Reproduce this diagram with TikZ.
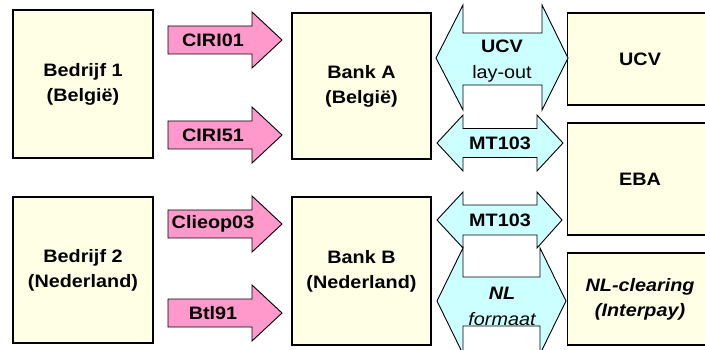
\documentclass[tikz,border=0pt]{standalone}
\usepackage{fontspec}
\setmainfont{Liberation Sans}[FakeStretch=1.1]
\usetikzlibrary{positioning}

\definecolor{boxfill}{RGB}{255,255,230}
\definecolor{pinkarrow}{RGB}{255,153,204}
\definecolor{bluearrow}{RGB}{204,255,255}

\tikzset{
  box/.style={draw=black, line width=1.2pt, fill=boxfill, align=center,
    font=\fontsize{18}{25}\selectfont\bfseries, inner sep=0pt},
  pinkshape/.style={draw=black, line width=0.9pt, fill=pinkarrow},
  blueshape/.style={draw=black, line width=0.9pt, fill=bluearrow},
  msglabel/.style={font=\fontsize{18}{26}\selectfont\bfseries, inner sep=0pt, align=center}
}

\begin{document}
\begin{tikzpicture}[x=1pt, y=-1pt]
  \useasboundingbox (0,0) rectangle (705,350);
  \clip (0,0) rectangle (705,350);

  % Companies
  \node[box, minimum width=140pt, minimum height=148pt] (bedrijf1) at (83,84) {Bedrijf 1\\(België)};
  \node[box, minimum width=140pt, minimum height=146pt] (bedrijf2) at (83,270) {Bedrijf 2\\(Nederland)};

  % Banks
  \node[box, minimum width=139pt, minimum height=146pt] (bankA) at (361.5,86) {Bank A\\(België)};
  \node[box, minimum width=139pt, minimum height=148pt] (bankB) at (361.5,271) {Bank B\\(Nederland)};

  % Clearing
  \node[box, minimum width=145pt, minimum height=92pt, anchor=west] (ucv) at (567,59) {UCV};
  \node[box, minimum width=145pt, minimum height=112pt, anchor=west] (eba) at (567,179) {EBA};
  \node[box, minimum width=145pt, minimum height=92pt, anchor=west] (nlclearing) at (567,299)
    {\itshape NL-clearing\\\itshape (Interpay)};

  % Formats company -> bank
  \foreach \c/\lbl/\nm in {40/CIRI01/ciri01, 135/CIRI51/ciri51, 224/Clieop03/clieop, 313/Btl91/btl} {
    \draw[pinkshape] (168,\c-14) -- (252,\c-14) -- (252,\c-28) -- (282,\c)
      -- (252,\c+28) -- (252,\c+14) -- (168,\c+14) -- cycle;
    \node[msglabel] (\nm) at (213,\c) {\lbl};
  }

  % Formats bank <-> clearing
  \draw[blueshape] (436,58) -- (463,5) -- (463,33) -- (542,33) -- (542,5) -- (568,58)
    -- (542,110) -- (542,85) -- (463,85) -- (463,110) -- cycle;
  \node[msglabel] (ucvfmt) at (502,61) {UCV\\\mdseries lay-out};

  \draw[blueshape] (437,143) -- (463,115) -- (463,128.5) -- (537,128.5) -- (537,115) -- (563,143)
    -- (537,171) -- (537,157.5) -- (463,157.5) -- (463,171) -- cycle;
  \node[msglabel] (mt103a) at (500,143) {MT103};

  \draw[blueshape] (437,220) -- (463,192) -- (463,205) -- (537,205) -- (537,192) -- (562,220)
    -- (537,248) -- (537,235) -- (463,235) -- (463,248) -- cycle;
  \node[msglabel] (mt103b) at (500,220) {MT103};

  \draw[blueshape] (437,301) -- (463,248) -- (463,277) -- (540,277) -- (540,248) -- (566,301)
    -- (540,354) -- (540,326) -- (463,326) -- (463,354) -- cycle;
  \node[msglabel] (nlfmt) at (502,306) {\itshape NL\\\mdseries\itshape formaat};
\end{tikzpicture}
\end{document}
